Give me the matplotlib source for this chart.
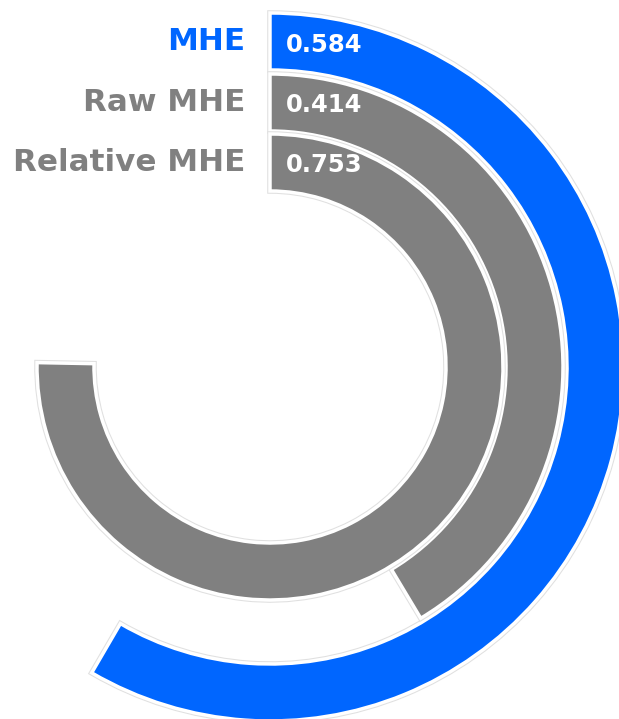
import matplotlib.pyplot as plt
import matplotlib.patheffects as pe
import numpy as np

labels = ["MHE", "Raw MHE", "Relative MHE"]
values = [0.584, 0.414, 0.753]
colors = ["#0066ff", "#808080", "#808080"]

# ring geometry in pixels (axes radial units == pixels)
outer = [354, 293, 233]
thick = 57
cx, cy = 270, 367
W, H = 619, 719

fig = plt.figure(figsize=(W / 100, H / 100), dpi=100)
R = 400
ax = fig.add_axes([(cx - R) / W, (H - cy - R) / H, 2 * R / W, 2 * R / H], projection="polar")
ax.set_theta_zero_location("N")
ax.set_theta_direction(-1)
ax.set_ylim(0, R)
ax.axis("off")

for lab, v, c, ro in zip(labels, values, colors, outer):
    theta = v * 2 * np.pi
    bars = ax.bar(theta / 2, thick, width=theta, bottom=ro - thick, color=c,
                  edgecolor="white", linewidth=2.5)
    for b in bars:
        b.set_path_effects([pe.Stroke(linewidth=4.0, foreground="#e0e0e0"), pe.Normal()])
    mid = ro - thick / 2
    ax.annotate(lab, xy=(0, mid), xytext=(-25, 0), textcoords="offset pixels",
                ha="right", va="center", fontsize=22.3, fontweight="bold", color=c,
                annotation_clip=False)
    ax.annotate(f"{v:.3f}", xy=(0, mid), xytext=(16, -3), textcoords="offset pixels",
                ha="left", va="center", fontsize=17.5, fontweight="bold", color="white",
                annotation_clip=False)

fig.savefig("out.png", dpi=100)
